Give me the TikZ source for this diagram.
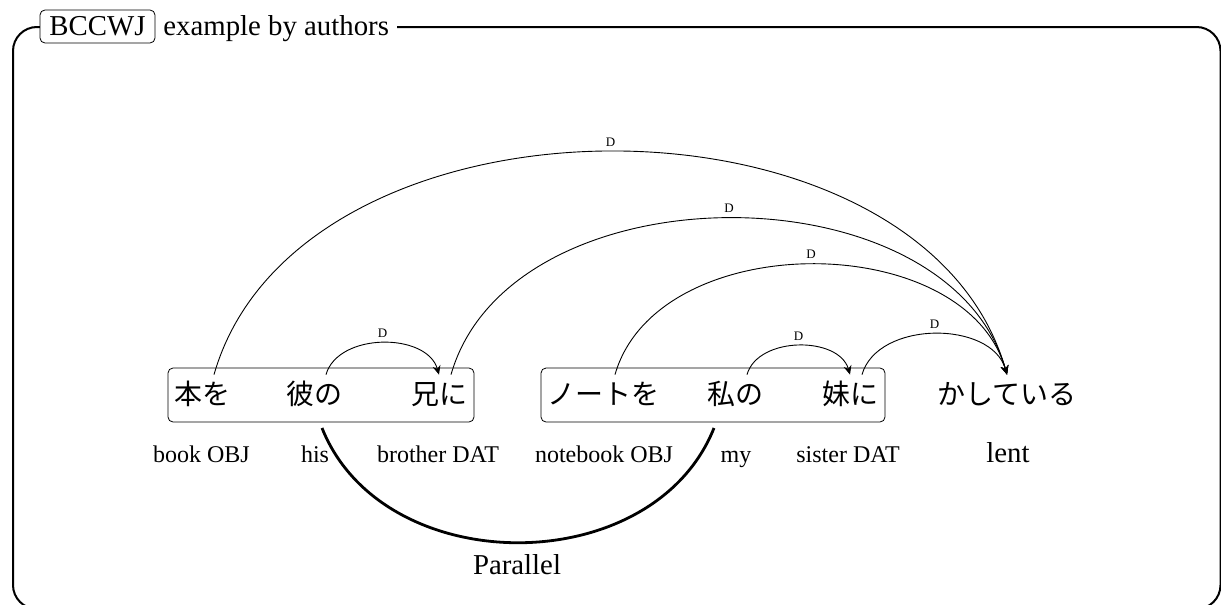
\documentclass[tikz,border=0pt]{standalone}
\usepackage{fontspec}
\setmainfont{Liberation Serif}
\newfontfamily\jpfont{Noto Sans CJK JP}
\usetikzlibrary{arrows.meta}
\begin{document}
\begin{tikzpicture}[x=0.5pt,y=-0.5pt,
  jp/.style={font=\jpfont\fontsize{14}{16}\selectfont, inner sep=0pt, text height=14.5pt, text depth=0pt, anchor=base},
  gloss/.style={font=\fontsize{12}{14}\selectfont, inner sep=0pt, anchor=base},
  biggloss/.style={font=\fontsize{14.4}{17}\selectfont, inner sep=0pt, anchor=base},
  grp/.style={draw, rounded corners=2.5pt, inner sep=0pt, minimum height=27pt},
  dep/.style={-{Stealth[length=4.5pt,width=4pt]}, line width=0.45pt},
  deparc/.style={out=74, in=106},
  dl/.style={font=\fontsize{6.5}{7.5}\selectfont, inner sep=1pt, above=1.5pt},
  par/.style={line width=1.4pt},
  tag/.style={draw, fill=white, rounded corners=2.5pt, inner sep=0pt, minimum width=57.5pt, text height=12.5pt, text depth=4pt, anchor=base, font=\fontsize{14.4}{17}\selectfont},
  ttl/.style={fill=white, inner xsep=4pt, inner ysep=3pt, anchor=base west, font=\fontsize{14.4}{17}\selectfont}]
\useasboundingbox (0,0) rectangle (1221,605);
% frame
\draw[line width=1pt, rounded corners=12pt] (13,27) rectangle (1220.5,609);
\node[ttl] (title) at (155,35) {example by authors};
\node[tag] (tag) at (97.5,35) {BCCWJ};
% groups
\node[grp, minimum width=153pt] (b1) at (321,395) {};
\node[grp, minimum width=172pt] (b2) at (713,395) {};
% words
\node[jp] (w1) at (202,404) {本を};
\node[jp] (w2) at (314,404) {彼の};
\node[jp] (w3) at (439,404) {兄に};
\node[jp] (w4) at (603,404) {ノートを};
\node[jp] (w5) at (735,404) {私の};
\node[jp] (w6) at (850,404) {妹に};
\node[jp] (w7) at (1007,404) {かしている};
% glosses
\node[gloss] (g1) at (201.5,462) {book OBJ};
\node[gloss] (g2) at (315,462) {his};
\node[gloss] (g3) at (438,462) {brother DAT};
\node[gloss] (g4) at (604,462) {notebook OBJ};
\node[gloss] (g5) at (736,462) {my};
\node[gloss] (g6) at (848,462) {sister DAT};
\node[biggloss] (g7) at (1008,462) {lent};
% dependencies
\draw[dep] ([xshift=6pt]w1.north) to[deparc] node[dl]{D} (w7.north);
\draw[dep] ([xshift=6pt]w3.north) to[deparc] node[dl]{D} (w7.north);
\draw[dep] ([xshift=6pt]w4.north) to[deparc] node[dl]{D} (w7.north);
\draw[dep] ([xshift=6pt]w2.north) to[deparc] node[dl]{D} (w3.north);
\draw[dep] ([xshift=6pt]w5.north) to[deparc] node[dl]{D} (w6.north);
\draw[dep] ([xshift=6pt]w6.north) to[deparc] node[dl]{D} (w7.north);
% parallel
\coordinate (pa) at (322,428);
\coordinate (pb) at (714,428);
\draw[par] (pa) .. controls (383,581) and (653,581) .. (pb);
\node[biggloss] (plabel) at (517,574) {Parallel};
\end{tikzpicture}
\end{document}
